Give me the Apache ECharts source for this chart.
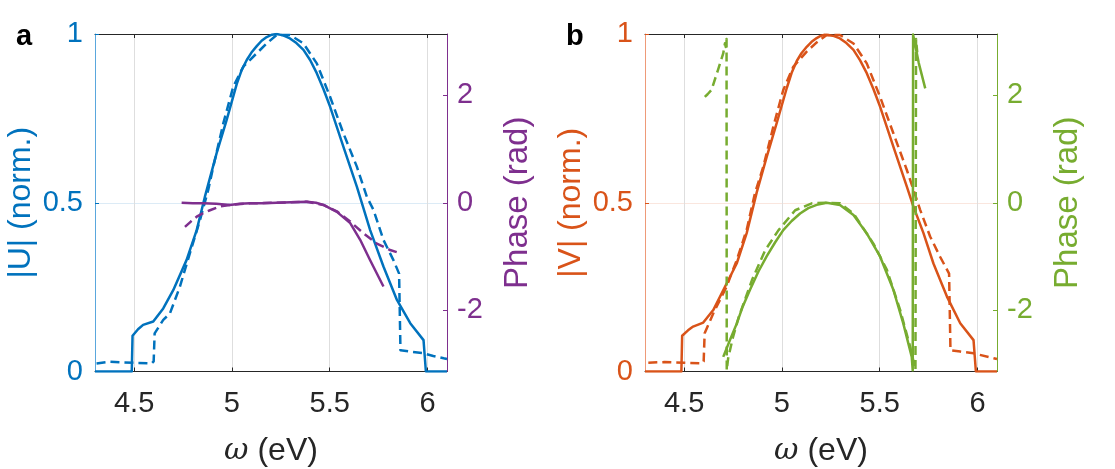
<!DOCTYPE html>
<html>
<head>
<meta charset="utf-8">
<title>|U| and |V| spectra</title>
<script src="https://cdn.jsdelivr.net/npm/echarts@6/dist/echarts.min.js"></script>
<style>
  html, body { margin: 0; padding: 0; background: #fff; }
  #chart { width: 1115px; height: 469px; }
</style>
</head>
<body>
<div id="chart"></div>
<script>
// tick labels
var xTicks = [4.5, 5, 5.5, 6]
var phaseTicks = [-2, 0, 2]

// panel a: |U| (solid = model, dashed = retrieved), pairs [omega, value]
var uSolid = [[4.3,0],[4.488,0],[4.492,0.106],[4.52,0.125],[4.546,0.138],[4.598,0.148],[4.649,0.187],[4.70,0.241],
  [4.768,0.330],[4.82,0.419],[4.862,0.518],[4.922,0.647],[4.973,0.745],[5.025,0.852],[5.05,0.893],[5.076,0.923],
  [5.10,0.945],[5.127,0.964],[5.152,0.980],[5.178,0.991],[5.205,0.998],[5.229,1.0],[5.262,0.996],[5.297,0.987],
  [5.33,0.973],[5.366,0.953],[5.40,0.923],[5.434,0.884],[5.468,0.837],[5.502,0.785],[5.57,0.666],[5.639,0.548],
  [5.707,0.419],[5.775,0.311],[5.844,0.212],[5.912,0.143],[5.98,0.093],[5.986,0.09],[5.992,0],[6.1,0]]
var uDashed = [[4.308,0.024],[4.376,0.029],[4.45,0.027],[4.52,0.025],[4.59,0.024],[4.60,0.03],[4.605,0.113],
  [4.649,0.153],[4.683,0.172],[4.734,0.251],[4.785,0.35],[4.837,0.449],[4.879,0.538],[4.905,0.607],[4.956,0.735],
  [5.007,0.844],[5.058,0.903],[5.127,0.943],[5.178,0.972],[5.229,0.997],[5.297,0.997],[5.366,0.972],[5.434,0.913],
  [5.502,0.814],[5.57,0.706],[5.639,0.607],[5.69,0.518],[5.724,0.479],[5.775,0.39],[5.826,0.33],[5.855,0.29],
  [5.862,0.063],[5.912,0.059],[5.98,0.054],[6.03,0.046],[6.083,0.039],[6.1,0.037]]
var uPhaseSolid = [[4.743,0],[4.80,-0.01],[4.854,-0.01],[4.92,-0.02],[4.99,-0.04],[5.04,-0.02],[5.093,-0.01],
  [5.16,-0.01],[5.229,0],[5.30,0.01],[5.383,0.02],[5.43,0.0],[5.468,-0.04],[5.537,-0.17],[5.605,-0.38],
  [5.656,-0.69],[5.707,-1.07],[5.775,-1.56]]
var uPhaseDashed = [[4.76,-0.45],[4.79,-0.35],[4.82,-0.26],[4.855,-0.19],[4.888,-0.14],[4.939,-0.07],[4.99,-0.04],
  [5.093,-0.01],[5.229,0],[5.383,0.02],[5.468,-0.04],[5.537,-0.16],[5.605,-0.35],[5.673,-0.57],[5.741,-0.76],
  [5.809,-0.88],[5.86,-0.94]]

// panel b: |V|
var vSolid = [[4.3,0],[4.486,0],[4.49,0.106],[4.52,0.122],[4.546,0.133],[4.598,0.145],[4.649,0.182],[4.709,0.251],
  [4.769,0.32],[4.82,0.41],[4.871,0.53],[4.922,0.635],[4.973,0.735],[5.025,0.84],[5.05,0.885],[5.076,0.92],
  [5.10,0.943],[5.127,0.962],[5.152,0.977],[5.178,0.988],[5.20,0.995],[5.22,0.998],[5.26,0.995],[5.297,0.987],
  [5.33,0.973],[5.366,0.953],[5.40,0.922],[5.434,0.884],[5.468,0.837],[5.502,0.785],[5.57,0.666],[5.639,0.548],
  [5.673,0.488],[5.724,0.41],[5.775,0.32],[5.844,0.222],[5.912,0.143],[5.98,0.093],[5.986,0.09],[5.992,0],[6.1,0]]
var vDashed = [[4.317,0.026],[4.4,0.028],[4.5,0.026],[4.59,0.024],[4.60,0.03],[4.605,0.113],[4.649,0.172],
  [4.717,0.251],[4.769,0.33],[4.82,0.42],[4.862,0.528],[4.905,0.607],[4.956,0.725],[5.007,0.834],[5.058,0.903],
  [5.127,0.948],[5.178,0.975],[5.229,0.997],[5.297,0.997],[5.366,0.972],[5.434,0.913],[5.502,0.814],[5.57,0.706],
  [5.639,0.597],[5.707,0.479],[5.758,0.40],[5.809,0.34],[5.855,0.29],[5.862,0.063],[5.912,0.059],[5.98,0.054],
  [6.083,0.039],[6.1,0.037]]
var vPhaseSolid = [[4.70,-2.87],[4.735,-2.55],[4.769,-2.25],[4.80,-1.93],[4.837,-1.62],[4.88,-1.28],[4.922,-1.0],
  [4.965,-0.74],[5.007,-0.51],[5.05,-0.34],[5.093,-0.2],[5.135,-0.1],[5.178,-0.04],[5.229,0],[5.297,-0.04],
  [5.366,-0.23],[5.434,-0.57],[5.502,-1.0],[5.57,-1.62],[5.621,-2.25],[5.664,-2.87],[5.669,-3.12],[5.671,3.13],
  [5.70,2.6],[5.733,2.13]]
var vPhaseDashed = [[4.606,1.97],[4.62,2.02],[4.64,2.1],[4.673,2.47],[4.70,2.78],[4.709,2.97],[4.713,2.9],
  [4.717,3.05],[4.718,-3.12],[4.725,-2.9],[4.75,-2.5],[4.78,-2.12],[4.847,-1.44],[4.915,-0.88],[4.983,-0.51],
  [5.068,-0.14],[5.153,-0.01],[5.229,0],[5.297,-0.01],[5.366,-0.2],[5.468,-0.76],[5.537,-1.25],[5.605,-2.0],
  [5.656,-2.68],[5.683,-3.11],[5.686,3.05],[5.692,2.8]]

var blue = '#0072BD', purple = '#7E2F8E', orange = '#D95319', green = '#77AC30'
var font = 'Liberation Sans, Arial, Helvetica, sans-serif'

function bottomAxis(grid) {
  return {
    type: 'value', gridIndex: grid, min: 4.3, max: 6.1, position: 'bottom',
    name: '{w|ω} (eV)', nameLocation: 'middle', nameGap: 64,
    nameTextStyle: {
      fontFamily: font, fontSize: 32, color: '#262626',
      rich: { w: { fontFamily: 'DejaVu Serif', fontStyle: 'italic', fontSize: 30, color: '#262626' } }
    },
    axisLine: { show: true, onZero: false, lineStyle: { color: '#262626', width: 1 } },
    axisTick: { show: true, inside: true, length: 4, customValues: xTicks, lineStyle: { color: '#262626' } },
    axisLabel: { show: true, customValues: xTicks, margin: 18, fontFamily: font, fontSize: 29, color: '#262626' },
    splitLine: { show: true, lineStyle: { color: '#dedede', width: 1 } }
  }
}
function topAxis(grid) {
  return {
    type: 'value', gridIndex: grid, min: 4.3, max: 6.1, position: 'top',
    axisLine: { show: true, onZero: false, lineStyle: { color: '#262626', width: 1 } },
    axisTick: { show: true, inside: true, length: 4, customValues: xTicks, lineStyle: { color: '#262626' } },
    axisLabel: { show: false },
    splitLine: { show: false }
  }
}
function leftAxis(grid, title, color, lineColor, gridColor) {
  return {
    type: 'value', gridIndex: grid, min: 0, max: 1, interval: 0.5, position: 'left',
    name: title, nameLocation: 'middle', nameRotate: 90, nameGap: 58,
    nameTextStyle: { fontFamily: font, fontSize: 32, color: color },
    axisLine: { show: true, onZero: false, lineStyle: { color: lineColor, width: 1 } },
    axisTick: { show: true, inside: true, length: 4, lineStyle: { color: color } },
    axisLabel: { fontFamily: font, fontSize: 29, color: color, margin: 12 },
    splitLine: { show: true, lineStyle: { color: gridColor, width: 1 } }
  }
}
function rightAxis(grid, color) {
  return {
    type: 'value', gridIndex: grid, min: -Math.PI, max: Math.PI, position: 'right',
    name: 'Phase (rad)', nameLocation: 'middle', nameRotate: 90, nameGap: 54,
    nameTextStyle: { fontFamily: font, fontSize: 33, color: color },
    axisLine: { show: true, onZero: false, lineStyle: { color: color, width: 1 } },
    axisTick: { show: true, inside: true, length: 4, customValues: phaseTicks, lineStyle: { color: color } },
    axisLabel: { customValues: phaseTicks, fontFamily: font, fontSize: 29, color: color, margin: 10 },
    splitLine: { show: false }
  }
}
function line(data, color, dashed, xi, yi) {
  return {
    type: 'line', data: data, xAxisIndex: xi, yAxisIndex: yi,
    showSymbol: false, symbol: 'none', silent: true,
    lineStyle: { color: color, width: 2.5, type: dashed ? [9, 5] : 'solid', cap: 'butt', join: 'round' }
  }
}

var chart = echarts.init(document.getElementById('chart'))
var option = {
  animation: false,
  backgroundColor: '#fff',
  grid: [
    { left: 95, top: 34, width: 352, height: 337.5, outerBoundsMode: 'none' },
    { left: 645, top: 34, width: 352, height: 337.5, outerBoundsMode: 'none' }
  ],
  xAxis: [bottomAxis(0), topAxis(0), bottomAxis(1), topAxis(1)],
  yAxis: [
    leftAxis(0, '|U| (norm.)', blue, '#5aa7dd', '#dcebf6'),
    rightAxis(0, purple),
    leftAxis(1, '|V| (norm.)', orange, '#ee9a78', '#fae6de'),
    rightAxis(1, green)
  ],
  graphic: [
    { type: 'text', left: 16, top: 22, style: { text: 'a', fontFamily: font, fontWeight: 'bold', fontSize: 29, fill: '#000' } },
    { type: 'text', left: 566, top: 22, style: { text: 'b', fontFamily: font, fontWeight: 'bold', fontSize: 29, fill: '#000' } }
  ],
  series: [
    line(uSolid, blue, false, 0, 0),
    line(uDashed, blue, true, 0, 0),
    line(uPhaseSolid, purple, false, 0, 1),
    line(uPhaseDashed, purple, true, 0, 1),
    line(vSolid, orange, false, 2, 2),
    line(vDashed, orange, true, 2, 2),
    line(vPhaseSolid, green, false, 2, 3),
    line(vPhaseDashed, green, true, 2, 3)
  ]
}
option && chart.setOption(option)
</script>
</body>
</html>
